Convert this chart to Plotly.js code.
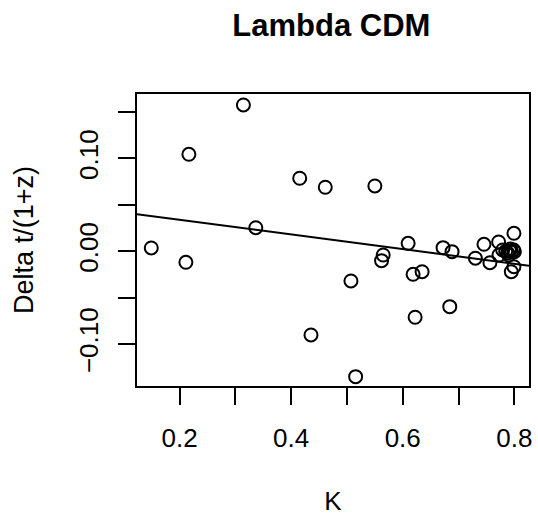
<!DOCTYPE html>
<html>
<head>
<meta charset="utf-8">
<script src="https://cdn.plot.ly/plotly-3.0.1.min.js"></script>
<style>html,body{margin:0;padding:0;background:#fff;}#chart{width:538px;height:516px;}</style>
</head>
<body>
<div id="chart"></div>
<script>
var kValues = [0.3145, 0.2168, 0.4154, 0.4612, 0.3367, 0.1494, 0.2114, 0.4356,
  0.5501, 0.6097, 0.5650, 0.5621, 0.5072, 0.6186, 0.6347, 0.6723, 0.6884, 0.6843,
  0.6222, 0.5156, 0.7302, 0.7456, 0.7563, 0.7719, 0.7993, 0.7946, 0.7993,
  0.7725, 0.7791, 0.7845, 0.7880, 0.7916, 0.7952, 0.7987, 0.8000, 0.7900, 0.7930];
var deltaValues = [0.1577, 0.1045, 0.0787, 0.0690, 0.0254, 0.0036, -0.0119, -0.0902,
  0.0704, 0.0086, -0.0040, -0.0101, -0.0320, -0.0248, -0.0220, 0.0039, -0.0004, -0.0597,
  -0.0711, -0.1351, -0.0075, 0.0075, -0.0123, 0.0100, 0.0194, -0.0220, -0.0166,
  -0.0040, 0.0014, 0.0000, -0.0018, 0.0003, -0.0008, 0.0014, -0.0005, -0.0040, 0.0025];
var fitCoef = [0.0497, -0.0789];   // intercept, slope (abline)
var xTickVals = [0.2, 0.3, 0.4, 0.5, 0.6, 0.7, 0.8];
var xTickText = ['0.2', '', '0.4', '', '0.6', '', '0.8'];
var yTickVals = [-0.10, -0.05, 0.00, 0.05, 0.10, 0.15];
var yTickText = ['\u22120.10', '', '0.00', '', '0.10', ''];

var xRange = [0.1238, 0.8263];
var yRange = [-0.1452, 0.1695];

var lineX = xRange.slice();
var lineY = lineX.map(function (x) { return fitCoef[0] + fitCoef[1] * x; });

var font = 'Liberation Sans, Arial, Helvetica, sans-serif';

var traces = [
  {
    x: kValues, y: deltaValues, type: 'scatter', mode: 'markers',
    marker: { symbol: 'circle-open', size: 13, color: '#000', line: { width: 2, color: '#000' } },
    hoverinfo: 'skip', cliponaxis: false
  },
  {
    x: lineX, y: lineY, type: 'scatter', mode: 'lines',
    line: { color: '#000', width: 2 }, hoverinfo: 'skip'
  }
];

var layout = {
  width: 538, height: 516,
  paper_bgcolor: '#fff', plot_bgcolor: '#fff',
  showlegend: false,
  margin: { l: 137, r: 9, t: 94, b: 130 },
  title: {
    text: '<b>Lambda CDM</b>',
    font: { family: font, size: 31, color: '#000' },
    x: 0.616, xanchor: 'center', y: 0.952, yanchor: 'middle'
  },
  xaxis: {
    range: xRange, autorange: false,
    tickmode: 'array', tickvals: xTickVals, ticktext: xTickText,
    ticks: 'outside', ticklen: 17, tickwidth: 2, tickcolor: '#000',
    showline: true, linewidth: 2, linecolor: '#000', mirror: true,
    showgrid: false, zeroline: false,
    tickfont: { family: font, size: 26, color: '#000' },
    ticklabelstandoff: 11,
    title: { text: 'K', font: { family: font, size: 26, color: '#000' }, standoff: 41 }
  },
  yaxis: {
    range: yRange, autorange: false,
    tickmode: 'array', tickvals: yTickVals, ticktext: yTickText,
    ticks: 'outside', ticklen: 17, tickwidth: 2, tickcolor: '#000',
    tickangle: -90,
    showline: true, linewidth: 2, linecolor: '#000', mirror: true,
    showgrid: false, zeroline: false,
    tickfont: { family: font, size: 26, color: '#000' },
    ticklabelstandoff: 10,
    title: { text: 'Delta t/(1+z)', font: { family: font, size: 27, color: '#000' }, standoff: 32 }
  }
};

Plotly.newPlot('chart', traces, layout, { displayModeBar: false, staticPlot: true });
</script>
</body>
</html>
